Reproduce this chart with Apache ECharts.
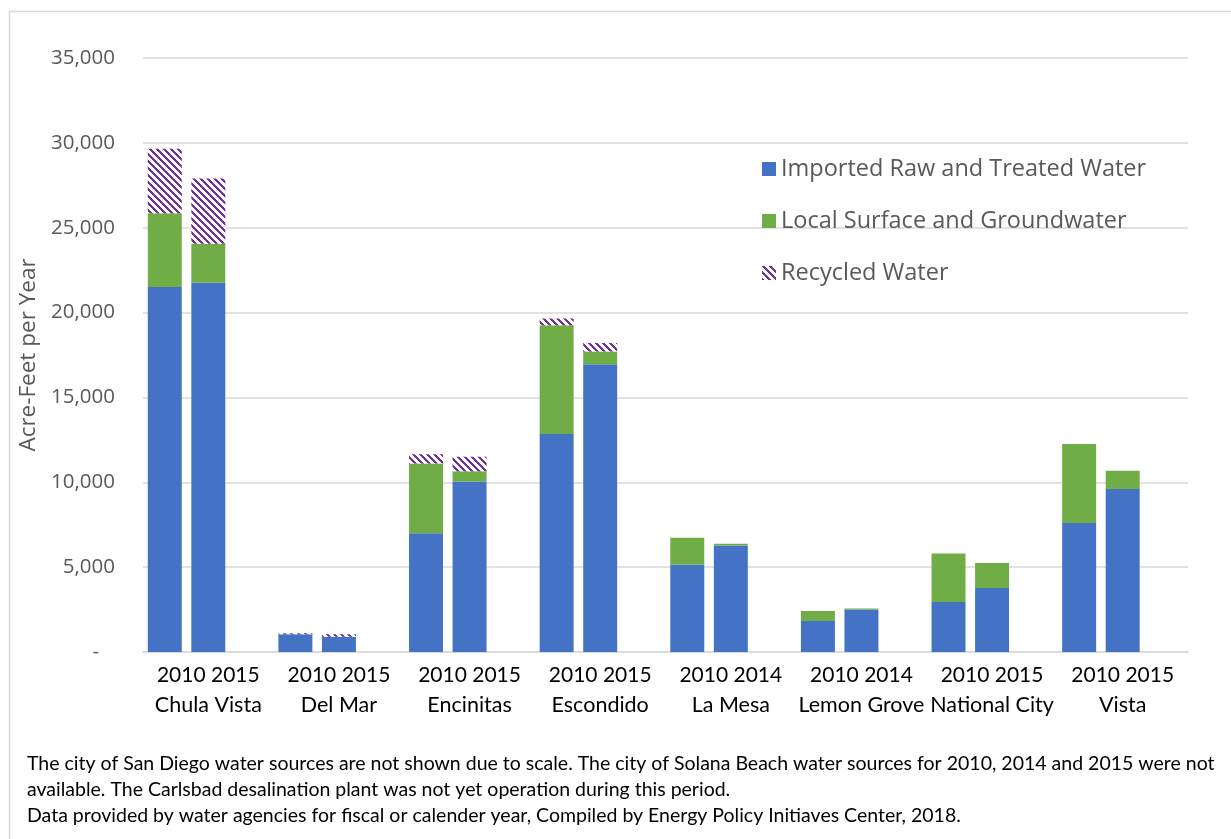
<!DOCTYPE html>
<html>
<head>
<meta charset="utf-8">
<script src="https://cdn.jsdelivr.net/npm/echarts@6.0.0/dist/echarts.min.js"></script>
<style>
  html, body { margin: 0; padding: 0; background: #fff; }
  #chart { width: 1231px; height: 839px; }
</style>
</head>
<body>
<div id="chart"></div>
<script>
// cities and the two reporting years shown for each
const cities = ['Chula Vista', 'Del Mar', 'Encinitas', 'Escondido', 'La Mesa', 'Lemon Grove', 'National City', 'Vista'];
const firstYear = ['2010', '2010', '2010', '2010', '2010', '2010', '2010', '2010'];
const secondYear = ['2015', '2015', '2015', '2015', '2014', '2014', '2015', '2015'];

// acre-feet per year, first year / second year
const imported1 = [21500, 1050, 7000, 12850, 5150, 1820, 2950, 7600];
const imported2 = [21750, 900, 10050, 16950, 6280, 2500, 3770, 9600];
const local1 = [4350, 0, 4100, 6400, 1580, 590, 2850, 4650];
const local2 = [2300, 0, 600, 750, 100, 60, 1470, 1080];
const recycled1 = [3800, 50, 550, 400, 0, 0, 0, 0];
const recycled2 = [3850, 140, 850, 500, 0, 0, 0, 0];

const yTicks = [0, 5000, 10000, 15000, 20000, 25000, 30000, 35000];

const footnote = [
  'The city of San Diego water sources are not shown due to scale. The city of Solana Beach water sources for 2010, 2014 and 2015 were not',
  'available. The Carlsbad desalination plant was not yet operation during this period.',
  'Data provided by water agencies for fiscal or calender year, Compiled by Energy Policy Initiaves Center, 2018.'
];

// each city takes three slots: two bars and an empty gap
function slots(a, b) {
  const out = [];
  cities.forEach((c, i) => { out.push(a[i], b[i], '-'); });
  return out;
}
const slotNames = [];
cities.forEach((c, i) => { slotNames.push(c + ' ' + firstYear[i], c + ' ' + secondYear[i], c + ' gap'); });

// downward diagonal hatch for recycled water
function hatch() {
  const n = 7;
  const cv = document.createElement('canvas');
  cv.width = n; cv.height = n;
  const ctx = cv.getContext('2d');
  ctx.fillStyle = '#fff';
  ctx.fillRect(0, 0, n, n);
  ctx.fillStyle = '#7030A0';
  for (let y = 0; y < n; y++) {
    for (let x = 0; x < n; x++) {
      if (((x - y) % n + n) % n < 3) ctx.fillRect(x, y, 1, 1);
    }
  }
  return cv;
}

const chart = echarts.init(document.getElementById('chart'));
const grey = '#595959';

const option = {
  animation: false,
  backgroundColor: '#fff',
  title: {
    text: footnote.join('\n'),
    left: 22,
    top: 746,
    textStyle: {
      fontFamily: 'Lato',
      fontSize: 19.5,
      fontWeight: 'normal',
      color: '#000',
      lineHeight: 26
    }
  },
  graphic: [{
    type: 'rect',
    left: 7,
    top: 9,
    shape: { width: 1300, height: 900 },
    style: { fill: null, stroke: '#D9D9D9', lineWidth: 1.5 },
    silent: true
  }],
  legend: {
    orient: 'vertical',
    left: 757,
    top: 152,
    itemGap: 28,
    itemWidth: 14,
    itemHeight: 14,
    icon: 'rect',
    selectedMode: false,
    textStyle: { fontFamily: 'Open Sans', fontSize: 23.5, color: grey, lineHeight: 22 }
  },
  grid: {
    left: 143,
    right: 43,
    top: 58,
    bottom: 187,
    outerBoundsMode: 'none'
  },
  xAxis: [{
    type: 'category',
    data: slotNames,
    axisTick: { show: false },
    axisLabel: { show: false },
    axisLine: { lineStyle: { color: '#D9D9D9', width: 1.5 } }
  }, {
    type: 'category',
    position: 'bottom',
    data: cities,
    axisTick: { show: false },
    axisLine: { show: false },
    axisLabel: {
      interval: 0,
      margin: 8,
      formatter: (v, i) => '{y|' + firstYear[i] + ' ' + secondYear[i] + '}\n{c|' + v + '}',
      rich: {
        y: { fontFamily: 'Lato', fontSize: 21, color: '#000', lineHeight: 30, align: 'center' },
        c: { fontFamily: 'Lato', fontSize: 21.5, color: '#000', lineHeight: 30, align: 'center' }
      }
    }
  }],
  yAxis: {
    type: 'value',
    min: yTicks[0],
    max: yTicks[yTicks.length - 1],
    interval: 5000,
    name: 'Acre-Feet per Year',
    nameLocation: 'middle',
    nameGap: 103,
    nameTextStyle: { fontFamily: 'Open Sans', fontSize: 22.5, color: grey },
    axisLine: { show: false },
    axisTick: { show: false },
    splitLine: { lineStyle: { color: '#D9D9D9', width: 1.5 } },
    axisLabel: {
      margin: 28,
      fontFamily: 'Open Sans',
      fontSize: 20.5,
      color: grey,
      formatter: v => v === 0 ? '-   ' : v.toLocaleString('en-US')
    }
  },
  series: [{
    name: 'Imported Raw and Treated Water',
    type: 'bar',
    stack: 'water',
    barWidth: '78%',
    itemStyle: { color: '#4472C4' },
    data: slots(imported1, imported2)
  }, {
    name: 'Local Surface and Groundwater',
    type: 'bar',
    stack: 'water',
    itemStyle: { color: '#70AD47' },
    data: slots(local1, local2)
  }, {
    name: 'Recycled Water',
    type: 'bar',
    stack: 'water',
    itemStyle: { color: { image: hatch(), repeat: 'repeat' } },
    data: slots(recycled1, recycled2)
  }]
};

chart.setOption(option);
</script>
</body>
</html>
